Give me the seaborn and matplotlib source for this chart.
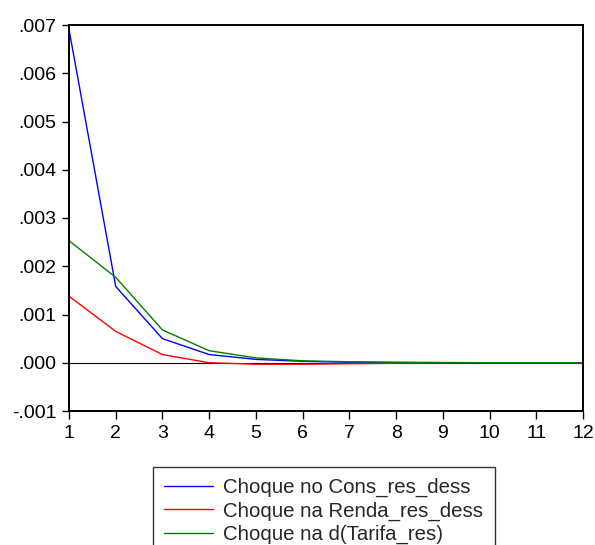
import matplotlib
matplotlib.use("Agg")
import matplotlib.pyplot as plt
import seaborn as sns
import pandas as pd
from matplotlib.ticker import FuncFormatter, MultipleLocator

periods = list(range(1, 13))
cons = [0.00691, 0.00158, 0.00050, 0.00017, 0.00007, 0.00003, 0.00001, 0.000005, 0.0, 0.0, 0.0, 0.0]
renda = [0.00138, 0.00065, 0.00017, 0.00000, -0.00003, -0.00003, -0.00002, -0.00001, -0.000005, 0.0, 0.0, 0.0]
tarifa = [0.00253, 0.00177, 0.00068, 0.00025, 0.00010, 0.00004, 0.00002, 0.00001, 0.000005, 0.0, 0.0, 0.0]
labels = ["Choque no Cons_res_dess", "Choque na Renda_res_dess", "Choque na d(Tarifa_res)"]
colors = ["#0000ff", "#ff0000", "#008000"]

df = pd.DataFrame({
    "period": periods * 3,
    "value": cons + renda + tarifa,
    "series": [labels[0]] * 12 + [labels[1]] * 12 + [labels[2]] * 12,
})

sns.set_style("white")
plt.rcParams["font.family"] = ["Liberation Sans", "DejaVu Sans"]

fig = plt.figure(figsize=(5.95, 5.45), dpi=100)
ax = fig.add_axes([69 / 595, 1 - 411 / 545, (583 - 69) / 595, (411 - 25) / 545])

sns.lineplot(data=df, x="period", y="value", hue="series", palette=colors,
             hue_order=labels, linewidth=1.0, ax=ax, legend=True)
ax.axhline(0, color="black", linewidth=0.8, zorder=1)

ax.set_xlim(1, 12)
ax.set_ylim(-0.001, 0.007)
ax.set_xticks(periods)
ax.yaxis.set_major_locator(MultipleLocator(0.001))

def fmt(v, pos):
    s = f"{v:.3f}"
    if s.startswith("-0"):
        return "-" + s[2:]
    if s.startswith("0"):
        return s[1:]
    return s

ax.yaxis.set_major_formatter(FuncFormatter(fmt))
ax.set_xlabel("")
ax.set_ylabel("")
for sp in ax.spines.values():
    sp.set_visible(True)
    sp.set_color("black")
    sp.set_linewidth(1.4)
ax.tick_params(axis="both", which="both", direction="out", width=1.0,
               labelsize=14, colors="black", bottom=True, left=True, top=False, right=False)
ax.tick_params(axis="x", length=6, pad=4)
ax.tick_params(axis="y", length=5, pad=4)

handles, lbls = ax.get_legend_handles_labels()
ax.get_legend().remove()
leg = fig.legend(handles, lbls, loc="upper left", bbox_to_anchor=(153 / 595, 1 - 467 / 545),
                 fontsize=14.7, frameon=True, fancybox=False, shadow=False,
                 handlelength=2.4, handletextpad=0.5, labelspacing=0.2,
                 borderpad=0.55, borderaxespad=0)
leg.get_frame().set_edgecolor("black")
leg.get_frame().set_linewidth(1.0)
for line in leg.get_lines():
    line.set_linewidth(1.0)

fig.savefig("out.png", dpi=100)
